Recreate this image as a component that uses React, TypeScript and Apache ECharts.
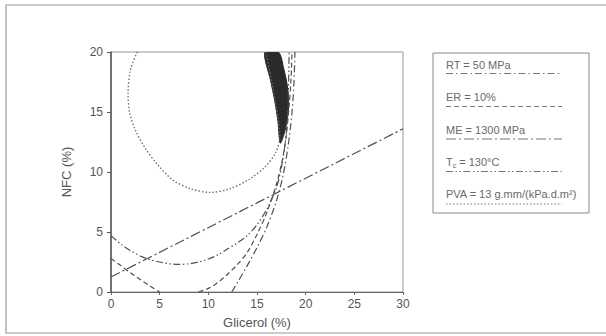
import React, { useEffect, useRef } from "react";
import * as echarts from "echarts";

// ---- data ----
const X_MIN = 0, X_MAX = 30, X_STEP = 5;
const Y_MIN = 0, Y_MAX = 20, Y_STEP = 5;

// PVA = 13 contour (dotted, closed-ish loop)
const PVA_CURVE: [number, number][] = [
  [2.7, 20], [2.0, 18.5], [1.75, 16.5], [1.9, 15], [2.5, 13.5], [3.5, 12],
  [4.8, 10.6], [6.4, 9.3], [8.2, 8.6], [10.2, 8.3], [12.2, 8.6], [14.2, 9.4],
  [15.8, 10.4], [16.9, 11.6], [17.35, 12.9], [17.2, 14.3], [16.9, 15.8],
  [16.5, 17.6], [15.9, 20],
];
// ER = 10% contour (dashed, two branches)
const ER_LOW: [number, number][] = [[0, 2.8], [1, 2.2], [2, 1.6], [3, 1.05], [4, 0.5], [5, 0]];
const ER_HIGH: [number, number][] = [
  [9, 0], [10, 0.3], [11, 0.8], [12, 1.5], [13, 2.3], [14, 3.3], [15, 4.8],
  [16, 6.6], [17, 9.0], [17.6, 11], [18.0, 13], [18.3, 15.5], [18.5, 17.8], [18.6, 20],
];
// RT = 50 MPa contour (dash-dot)
const RT_CURVE: [number, number][] = [
  [12.4, 0], [13, 0.8], [14, 2.2], [15, 3.7], [16, 5.4], [17, 7.6], [17.7, 9.8],
  [18.2, 12.2], [18.6, 15], [18.8, 17.5], [18.9, 20],
];
// ME = 1300 MPa contour (long dash-dot, straight)
const ME_LINE: [number, number][] = [[0, 1.25], [30, 13.6]];
// Tc = 130 °C contour (dash-dot-dot)
const TC_CURVE: [number, number][] = [
  [0, 4.7], [1, 4.0], [2, 3.45], [3, 3.0], [4, 2.7], [5, 2.5], [6, 2.35], [7, 2.3],
  [8, 2.35], [9, 2.5], [10, 2.75], [11, 3.1], [12, 3.6], [13, 4.1], [14, 4.7],
  [15, 5.6], [16, 6.9], [17, 8.7], [17.6, 10.8], [18.0, 13.2], [18.2, 16], [18.3, 20],
];
// Feasible region (filled crescent)
const REGION: [number, number][] = [
  [15.8, 20], [16.4, 17.6], [16.85, 15.8], [17.15, 14.2], [17.4, 12.4],
  [17.95, 13.7], [18.25, 15.4], [18.15, 17], [17.75, 18.6], [17.2, 20],
];

const LEGEND_LABELS = ["RT = 50 MPa", "ER = 10%", "ME = 1300 MPa", "{n|T}{s|c}{n| = 130°C}", "PVA = 13 g.mm/(kPa.d.m²)"];

const STYLES = {
  RT: [7, 3, 1.5, 3],
  ER: [5, 3],
  ME: [10, 3, 2, 3],
  TC: [7, 2.5, 1.5, 2.5, 1.5, 2.5],
  PVA: [1.5, 2],
};
const LEGEND_DASHES = [STYLES.RT, STYLES.ER, STYLES.ME, STYLES.TC, STYLES.PVA];

const FONT = "Liberation Sans, Arial, sans-serif";
const LINE_COLOR = "#505050";

export default function App() {
  const ref = useRef<HTMLDivElement>(null);

  useEffect(() => {
    if (!ref.current) return;
    const chart = echarts.init(ref.current, undefined, { renderer: "svg" });

    const lineSeries = (name: string, data: [number, number][], dash: number[], color = LINE_COLOR, width = 1.2) => ({
      type: "line",
      name,
      data,
      showSymbol: false,
      smooth: 0.3,
      clip: true,
      lineStyle: { color, width, type: dash },
      z: 3,
    });

    const legendGraphics: any[] = [
      {
        type: "rect",
        shape: { x: 433, y: 53, width: 156, height: 160 },
        style: { fill: "#fff", stroke: "#888", lineWidth: 1 },
      },
    ];
    const textYs = [65, 97, 130, 162, 194];
    const lineYs = [73.5, 106.5, 139, 171.5, 204];
    LEGEND_LABELS.forEach((lab, i) => {
      legendGraphics.push({
        type: "text",
        x: 446,
        y: textYs[i],
        style: {
          text: lab,
          fill: "#6a6a6a",
          font: `11px ${FONT}`,
          verticalAlign: "middle",
          rich: {
            n: { fontSize: 11, fontFamily: FONT, fill: "#6a6a6a" },
            s: { fontSize: 7, fontFamily: FONT, fill: "#6a6a6a", verticalAlign: "bottom", padding: [6, 0, 0, 0] },
          },
        },
      });
      legendGraphics.push({
        type: "line",
        shape: { x1: 446, y1: lineYs[i], x2: 562, y2: lineYs[i] },
        style: { stroke: "#777", lineWidth: 1, lineDash: LEGEND_DASHES[i] },
      });
    });

    const option: any = {
      animation: false,
      backgroundColor: "#fff",
      textStyle: { fontFamily: FONT },
      grid: {
        left: 111,
        top: 52,
        width: 292,
        height: 240,
        show: true,
        borderColor: "#999",
        borderWidth: 1,
        backgroundColor: "transparent",
      },
      xAxis: {
        type: "value",
        min: X_MIN,
        max: X_MAX,
        interval: X_STEP,
        name: "Glicerol (%)",
        nameLocation: "middle",
        nameGap: 24,
        nameTextStyle: { fontSize: 13, color: "#555", fontFamily: FONT },
        axisLine: { show: true, onZero: false, lineStyle: { color: "#666", width: 1.2 } },
        axisTick: { show: true, length: 3, lineStyle: { color: "#666" } },
        axisLabel: { fontSize: 12, color: "#555", margin: 6, fontFamily: FONT },
        splitLine: { show: false },
      },
      yAxis: {
        type: "value",
        min: Y_MIN,
        max: Y_MAX,
        interval: Y_STEP,
        name: "NFC (%)",
        nameLocation: "middle",
        nameGap: 38,
        nameRotate: 90,
        nameTextStyle: { fontSize: 13, color: "#555", fontFamily: FONT },
        axisLine: { show: true, onZero: false, lineStyle: { color: "#555", width: 1.5 } },
        axisTick: { show: true, length: 4, lineStyle: { color: "#555" } },
        axisLabel: { fontSize: 12, color: "#555", margin: 8, fontFamily: FONT },
        splitLine: { show: false },
      },
      graphic: [
        {
          type: "rect",
          shape: { x: 6, y: 5, width: 620, height: 328 },
          style: { fill: "none", stroke: "#9a9a9a", lineWidth: 1.2 },
          z: -1,
        },
        ...legendGraphics,
      ],
      series: [
        {
          type: "custom",
          name: "region",
          data: [0],
          clip: true,
          z: 2,
          renderItem: (_params: any, api: any) => ({
            type: "polygon",
            shape: { points: REGION.map((p) => api.coord(p)), smooth: 0.3 },
            style: { fill: "#2a2a2a", stroke: "#2a2a2a" },
          }),
        },
        lineSeries("PVA", PVA_CURVE, STYLES.PVA, "#6a6a6a", 1.3),
        lineSeries("ER low", ER_LOW, STYLES.ER),
        lineSeries("ER high", ER_HIGH, STYLES.ER),
        lineSeries("RT", RT_CURVE, STYLES.RT),
        lineSeries("ME", ME_LINE, STYLES.ME),
        lineSeries("Tc", TC_CURVE, STYLES.TC),
      ],
    };
    chart.setOption(option);
    return () => chart.dispose();
  }, []);

  return (
    <div
      ref={ref}
      style={{ position: "absolute", left: 0, top: 0, width: 606, height: 336, background: "#fff" }}
    />
  );
}
